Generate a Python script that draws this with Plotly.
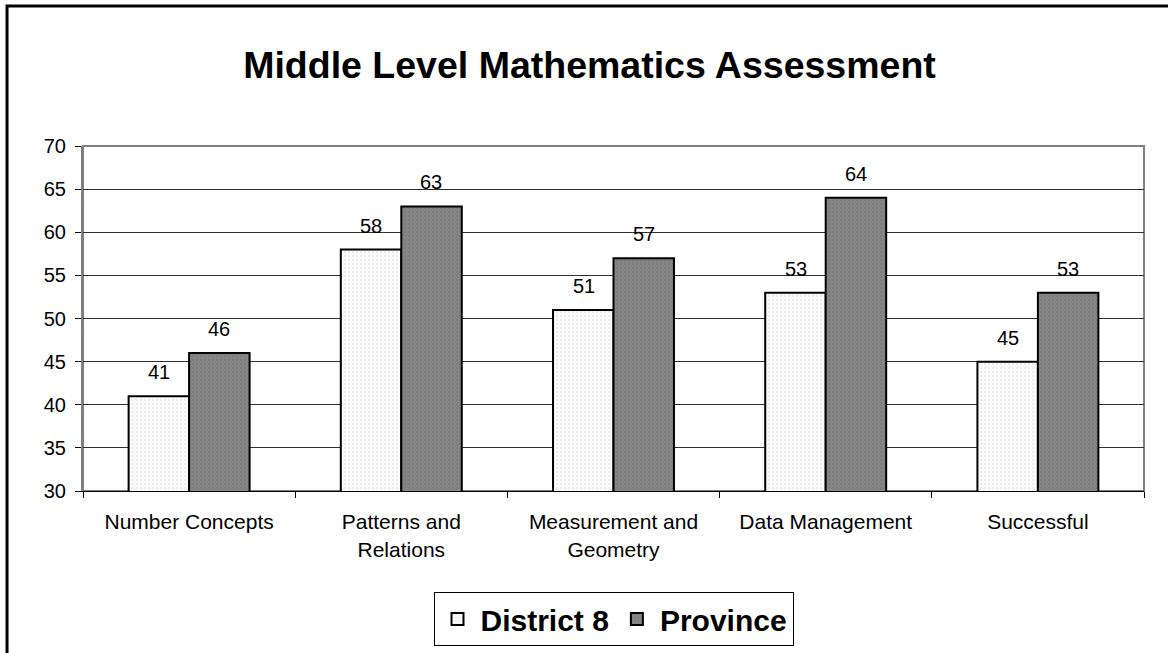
import plotly.graph_objects as go

categories = ["Number Concepts", "Patterns and<br>Relations", "Measurement and<br>Geometry", "Data Management", "Successful"]
district8 = [41, 58, 51, 53, 45]
province = [46, 63, 57, 64, 53]
y_ticks = [30, 35, 40, 45, 50, 55, 60, 65, 70]

FONT = "Liberation Sans, Arial, sans-serif"

fig = go.Figure()
fig.add_trace(go.Bar(
    name="District 8", x=categories, y=district8,
    marker=dict(color="#f7f7f7", line=dict(color="black", width=2),
                pattern=dict(shape=".", fgcolor="#d8d8d8", bgcolor="#fafafa", size=4, solidity=0.2)),
))
fig.add_trace(go.Bar(
    name="Province", x=categories, y=province,
    marker=dict(color="#7f7f7f", line=dict(color="black", width=2),
                pattern=dict(shape=".", fgcolor="#6a6a6a", bgcolor="#858585", size=4, solidity=0.2)),
))

annotations = []
for cat, v in zip(categories, district8):
    annotations.append(dict(x=cat, y=v, xshift=-30, yshift=11, yanchor="bottom", text=str(v),
                            showarrow=False, font=dict(size=20, color="black", family=FONT)))
for cat, v in zip(categories, province):
    annotations.append(dict(x=cat, y=v, xshift=30, yshift=11, yanchor="bottom", text=str(v),
                            showarrow=False, font=dict(size=20, color="black", family=FONT)))

fig.update_layout(
    width=1168, height=653,
    margin=dict(l=83, r=24, t=146, b=162, autoexpand=False),
    paper_bgcolor="white", plot_bgcolor="white",
    font=dict(family=FONT, color="black"),
    title=dict(text="<b>Middle Level Mathematics Assessment</b>", x=589.5 / 1168, xanchor="center",
               y=1 - 65 / 653, yanchor="middle", font=dict(size=37.5, color="black", family=FONT)),
    barmode="group", bargap=0.43, bargroupgap=0,
    showlegend=True,
    legend=dict(orientation="h", x=0.5, xanchor="center", y=-0.293, yanchor="top",
                bordercolor="black", borderwidth=1, bgcolor="white",
                font=dict(size=30, family=FONT, color="black", weight="bold"),
                itemsizing="constant", traceorder="normal", itemwidth=36),
    annotations=annotations,
    shapes=[
        dict(type="rect", xref="paper", yref="paper", x0=0, x1=1, y0=0, y1=1,
             line=dict(color="#808080", width=2), layer="below"),
        dict(type="rect", xref="paper", yref="paper", x0=-0.0716, x1=1.2, y0=-0.7, y1=1.406,
             line=dict(color="black", width=3), layer="above"),
    ],
)
fig.update_xaxes(type="category", showline=True, linecolor="black", linewidth=1,
                 ticks="outside", tickson="boundaries", ticklen=6, tickcolor="black",
                 ticklabelstandoff=12, automargin=False,
                 tickfont=dict(size=21, family=FONT, color="black"), showgrid=False)
fig.update_yaxes(range=[30, 70], tickvals=y_ticks, showline=True, linecolor="#808080", linewidth=2,
                 ticks="outside", ticklen=6, tickcolor="black", ticklabelstandoff=5, automargin=False,
                 tickfont=dict(size=20, family=FONT, color="black"),
                 showgrid=True, gridcolor="#303030", gridwidth=1, zeroline=False)

fig.write_html("out.html", config={"displayModeBar": False},
               post_script="document.body.style.margin='0';document.body.style.overflow='hidden';")
